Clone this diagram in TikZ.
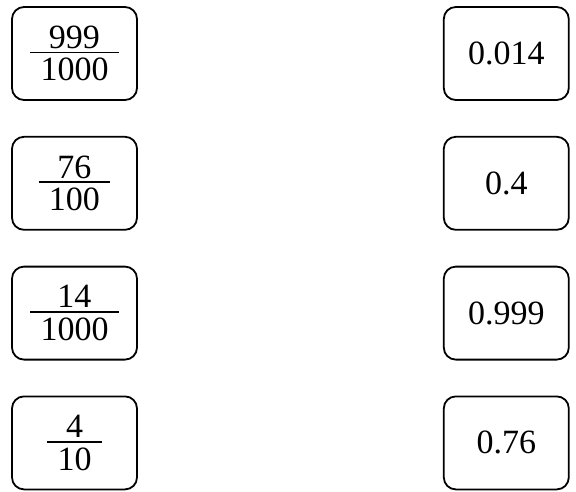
\documentclass[tikz,border=0pt]{standalone}
\usepackage{fontspec}
\setmainfont{Liberation Serif}
\usepackage{tikz}
\usetikzlibrary{positioning}

\newcommand{\frc}[2]{\vbox{\offinterlineskip\halign{\hspace{0.3em}\hfil##\hfil\hspace{0.3em}\cr
  #1\cr\noalign{\kern3pt\hrule height 1.8pt\kern5pt}#2\cr}}}

\begin{document}
\begin{tikzpicture}[
  x=1pt, y=1pt,
  node distance=35pt and 305pt,
  card/.style={rectangle, rounded corners=12pt, draw, line width=1.8pt, minimum width=125pt, minimum height=93pt, inner sep=0pt, align=center, font=\fontsize{34}{40}\selectfont}
]
\useasboundingbox (0,0) rectangle (576,-491);

% Fractions
\node[card] (f1) at (74.5,-53.5) {\frc{999}{1000}};
\node[card, below=of f1] (f2) {\frc{76}{100}};
\node[card, below=of f2] (f3) {\frc{14}{1000}};
\node[card, below=of f3] (f4) {\frc{4}{10}};

% Decimals
\node[card, right=of f1] (d1) {0.014};
\node[card, right=of f2] (d2) {0.4};
\node[card, right=of f3] (d3) {0.999};
\node[card, right=of f4] (d4) {0.76};

\end{tikzpicture}
\end{document}
